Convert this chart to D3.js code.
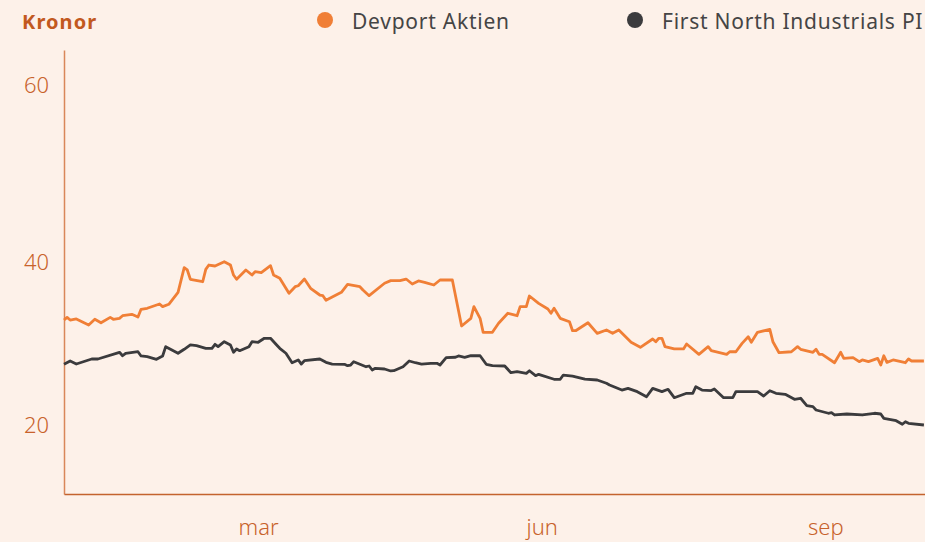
<!DOCTYPE html>
<html>
<head>
<meta charset="utf-8">
<script src="https://cdn.jsdelivr.net/npm/d3@7"></script>
<style>
  html, body { margin: 0; padding: 0; background: #fdf1e9; overflow: hidden; }
  svg { display: block; font-family: "Noto Sans", sans-serif; }
  .tick text { fill: #c8622b; font-size: 22px; font-weight: 300; }
</style>
</head>
<body>
<svg id="chart" width="925" height="542"></svg>
<script>
// series names / colours
var series_names = ["Devport Aktien", "First North Industrials PI"];
var series_colors = ["#f07f36", "#3b3b3d"];

// Devport Aktien (kronor)
var devport_dates = ["2020-12-28","2020-12-29","2020-12-30","2021-01-01","2021-01-05","2021-01-07","2021-01-09","2021-01-12","2021-01-13","2021-01-15","2021-01-16","2021-01-19","2021-01-21","2021-01-22","2021-01-24","2021-01-28","2021-01-29","2021-01-31","2021-02-03","2021-02-05","2021-02-06","2021-02-07","2021-02-11","2021-02-12","2021-02-13","2021-02-15","2021-02-18","2021-02-20","2021-02-21","2021-02-22","2021-02-25","2021-02-27","2021-02-28","2021-03-02","2021-03-05","2021-03-06","2021-03-08","2021-03-11","2021-03-13","2021-03-14","2021-03-16","2021-03-18","2021-03-21","2021-03-22","2021-03-23","2021-03-28","2021-03-30","2021-04-03","2021-04-04","2021-04-06","2021-04-11","2021-04-13","2021-04-16","2021-04-18","2021-04-20","2021-04-22","2021-04-24","2021-04-27","2021-04-29","2021-05-03","2021-05-06","2021-05-09","2021-05-10","2021-05-12","2021-05-13","2021-05-16","2021-05-18","2021-05-21","2021-05-24","2021-05-25","2021-05-27","2021-05-28","2021-05-31","2021-06-03","2021-06-04","2021-06-05","2021-06-07","2021-06-10","2021-06-11","2021-06-12","2021-06-16","2021-06-19","2021-06-22","2021-06-24","2021-06-26","2021-06-30","2021-07-03","2021-07-07","2021-07-08","2021-07-09","2021-07-10","2021-07-11","2021-07-14","2021-07-17","2021-07-18","2021-07-22","2021-07-25","2021-07-26","2021-07-31","2021-08-01","2021-08-03","2021-08-05","2021-08-07","2021-08-08","2021-08-10","2021-08-14","2021-08-15","2021-08-17","2021-08-21","2021-08-23","2021-08-24","2021-08-28","2021-08-29","2021-08-30","2021-08-31","2021-09-04","2021-09-06","2021-09-07","2021-09-10","2021-09-12","2021-09-13","2021-09-15","2021-09-18","2021-09-19","2021-09-20","2021-09-21","2021-09-23","2021-09-27","2021-09-28","2021-09-29","2021-10-03"];
var devport_values = [32.88,33.21,32.88,33.01,32.27,32.97,32.55,33.21,32.97,33.09,33.41,33.58,33.25,34.20,34.32,34.85,34.52,34.81,36.28,39.30,39.02,37.88,37.58,39.10,39.63,39.51,40.03,39.63,38.40,37.88,39.02,38.40,38.81,38.69,39.55,38.40,38.00,36.16,36.97,37.09,37.91,36.77,35.95,35.87,35.30,36.28,37.26,36.97,36.56,35.87,37.39,37.71,37.71,37.91,37.30,37.67,37.51,37.18,37.79,37.79,32.15,33.09,34.52,33.09,31.37,31.37,32.48,33.71,33.41,34.52,34.52,35.83,34.93,34.23,33.71,34.32,33.09,32.67,31.57,31.57,32.55,31.25,31.66,31.25,31.66,30.15,29.53,30.55,30.22,30.64,30.64,29.61,29.33,29.33,29.94,28.67,29.61,29.12,28.67,28.99,28.99,30.02,30.83,30.15,31.37,31.74,30.22,28.87,28.99,29.61,29.29,28.92,29.29,28.67,28.67,27.64,28.92,28.18,28.26,27.77,27.98,27.77,28.18,27.36,28.50,27.69,27.98,27.64,28.10,27.85,27.85];

// First North Industrials PI
var index_dates = ["2020-12-28","2020-12-30","2021-01-01","2021-01-06","2021-01-08","2021-01-15","2021-01-16","2021-01-17","2021-01-21","2021-01-22","2021-01-24","2021-01-27","2021-01-29","2021-01-30","2021-02-03","2021-02-05","2021-02-07","2021-02-09","2021-02-12","2021-02-14","2021-02-15","2021-02-16","2021-02-18","2021-02-20","2021-02-21","2021-02-22","2021-02-23","2021-02-26","2021-02-27","2021-03-01","2021-03-03","2021-03-05","2021-03-07","2021-03-08","2021-03-10","2021-03-12","2021-03-14","2021-03-15","2021-03-16","2021-03-21","2021-03-23","2021-03-25","2021-03-29","2021-03-30","2021-03-31","2021-04-01","2021-04-05","2021-04-06","2021-04-07","2021-04-08","2021-04-11","2021-04-13","2021-04-14","2021-04-17","2021-04-19","2021-04-21","2021-04-23","2021-04-26","2021-04-28","2021-04-29","2021-05-01","2021-05-04","2021-05-05","2021-05-07","2021-05-09","2021-05-12","2021-05-14","2021-05-16","2021-05-20","2021-05-22","2021-05-24","2021-05-27","2021-05-28","2021-05-30","2021-05-31","2021-06-05","2021-06-07","2021-06-08","2021-06-11","2021-06-15","2021-06-19","2021-06-22","2021-06-23","2021-06-27","2021-06-29","2021-07-02","2021-07-05","2021-07-07","2021-07-10","2021-07-12","2021-07-14","2021-07-18","2021-07-20","2021-07-21","2021-07-23","2021-07-26","2021-07-27","2021-07-30","2021-08-02","2021-08-03","2021-08-10","2021-08-12","2021-08-14","2021-08-16","2021-08-19","2021-08-22","2021-08-24","2021-08-26","2021-08-28","2021-08-29","2021-09-02","2021-09-03","2021-09-04","2021-09-08","2021-09-13","2021-09-17","2021-09-19","2021-09-20","2021-09-24","2021-09-26","2021-09-27","2021-09-28","2021-10-03"];
var index_values = [27.45,27.85,27.48,28.10,28.10,28.92,28.50,28.80,28.99,28.47,28.38,28.06,28.47,29.61,28.80,29.29,29.82,29.73,29.41,29.41,29.90,29.61,30.22,29.82,28.92,29.33,29.12,29.61,30.22,30.15,30.64,30.64,29.82,29.41,28.80,27.64,27.98,27.48,27.89,28.10,27.69,27.48,27.45,27.28,27.36,27.77,27.15,27.24,26.75,26.96,26.87,26.63,26.66,27.15,27.85,27.64,27.48,27.57,27.57,27.36,28.26,28.31,28.47,28.31,28.50,28.50,27.45,27.28,27.24,26.42,26.54,26.34,26.66,26.05,26.22,25.61,25.61,26.13,26.01,25.64,25.52,25.12,24.91,24.29,24.50,24.09,23.47,24.50,24.09,24.38,23.35,23.89,23.89,24.70,24.29,24.23,24.42,23.35,23.35,24.09,24.09,23.56,24.21,23.89,23.77,23.15,23.28,22.37,22.25,21.84,21.44,21.51,21.23,21.35,21.23,21.44,21.35,20.82,20.53,20.09,20.40,20.21,20.00];

// axis ticks
var y_ticks = [20, 40, 60];
var x_tick_dates = ["2021-03-01", "2021-06-01", "2021-09-01"];
var x_tick_labels = ["mar", "jun", "sep"];

var parseDate = d3.utcParse("%Y-%m-%d");

function build_line_chart() {
    var svg = d3.select("svg#chart");

    var xscale = d3.scaleUtc()
        .domain([parseDate("2020-12-28"), parseDate("2021-10-04")])
        .range([64, 927]);

    // the original axis is not evenly spaced, so the scale is piecewise
    var yscale = d3.scaleLinear()
        .domain([11.5, 20, 40, 60, 64])
        .range([494, 425, 262, 85, 50]);

    var xaxis = d3.axisBottom(xscale)
        .tickValues(x_tick_dates.map(parseDate))
        .tickFormat((d, i) => x_tick_labels[i])
        .tickSize(0)
        .tickPadding(25);

    var yaxis = d3.axisLeft(yscale)
        .tickValues(y_ticks)
        .tickSize(0)
        .tickPadding(15);

    svg.append("g")
        .attr("class", "yaxis")
        .attr("transform", "translate(64,0)")
        .call(yaxis)
        .call(g => g.select(".domain").attr("stroke", "#d9875a").attr("stroke-width", 1.5));

    svg.append("g")
        .attr("class", "xaxis")
        .attr("transform", "translate(0,494)")
        .call(xaxis)
        .call(g => g.select(".domain").attr("stroke", "#c4632e").attr("stroke-width", 1.5));

    svg.selectAll(".tick text").attr("font-family", "Noto Sans, sans-serif");

    var datasets = [
        devport_dates.map((d, i) => ({date: parseDate(d), value: devport_values[i]})),
        index_dates.map((d, i) => ({date: parseDate(d), value: index_values[i]}))
    ];

    var line = d3.line()
        .x(d => xscale(d.date))
        .y(d => yscale(d.value));

    var g = svg.append("g").attr("class", "line_chart_paths");
    datasets.forEach(function(data, index) {
        g.append("path")
            .datum(data)
            .attr("fill", "none")
            .attr("stroke", series_colors[index])
            .attr("stroke-width", 2.8)
            .attr("stroke-linejoin", "round")
            .attr("d", line);
    });

    // unit title
    svg.append("text")
        .attr("x", 22)
        .attr("y", 29)
        .attr("fill", "#c2591f")
        .attr("font-size", 20)
        .attr("font-weight", "bold")
        .attr("letter-spacing", 1.1)
        .text("Kronor");

    // legend
    var legend_x = [325, 635];
    series_names.forEach(function(name, i) {
        svg.append("circle")
            .attr("cx", legend_x[i])
            .attr("cy", 20)
            .attr("r", 8)
            .attr("fill", series_colors[i]);
        svg.append("text")
            .attr("x", legend_x[i] + 27)
            .attr("y", 29)
            .attr("fill", "#454545")
            .attr("font-size", 21)
            .attr("letter-spacing", 0.75)
            .text(name);
    });
}

build_line_chart();
</script>
</body>
</html>
